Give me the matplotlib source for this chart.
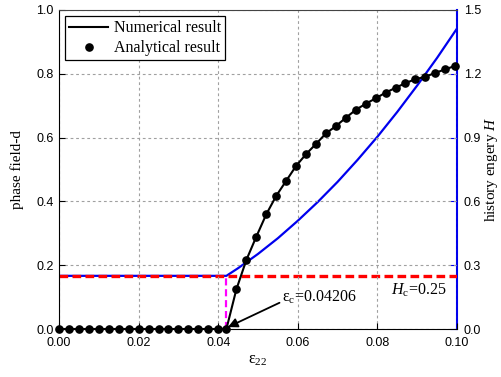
import matplotlib
matplotlib.use("Agg")
import matplotlib.pyplot as plt

# Data
eps_zero = [0.0, 0.0025, 0.005, 0.0075, 0.01, 0.0125, 0.015, 0.0175, 0.02,
            0.0225, 0.025, 0.0275, 0.03, 0.0325, 0.035, 0.0375, 0.04]
d_zero = [0.0] * len(eps_zero)
eps_dmg = [0.04206, 0.04456, 0.04706, 0.04956, 0.05206, 0.05456, 0.05706, 0.05956,
           0.06206, 0.06456, 0.06706, 0.06956, 0.07206, 0.07456, 0.07706, 0.07956,
           0.08206, 0.08456, 0.08706, 0.08956, 0.09206, 0.09456, 0.09706, 0.09956]
d_dmg = [0.0, 0.124, 0.216, 0.289, 0.359, 0.417, 0.464, 0.511,
         0.548, 0.580, 0.613, 0.636, 0.662, 0.687, 0.706, 0.723,
         0.741, 0.756, 0.771, 0.783, 0.791, 0.803, 0.814, 0.825]
eps_all = eps_zero + eps_dmg
d_all = d_zero + d_dmg

eps_H = [0.0, 0.04206, 0.045, 0.05, 0.055, 0.06, 0.065, 0.07, 0.075, 0.08,
         0.085, 0.09, 0.095, 0.1]
H_vals = [0.25, 0.25, 0.286, 0.353, 0.427, 0.509, 0.597, 0.692, 0.795, 0.904,
          1.021, 1.145, 1.275, 1.413]
eps_c = 0.04206
H_c = 0.25

xticks = [0.00, 0.02, 0.04, 0.06, 0.08, 0.10]
yticks_left = [0.0, 0.2, 0.4, 0.6, 0.8, 1.0]
yticks_right = [0.0, 0.3, 0.6, 0.9, 1.2, 1.5]

serif = ['Liberation Serif', 'DejaVu Serif']
sans = ['Liberation Sans', 'DejaVu Sans']
plt.rcParams['font.family'] = sans
plt.rcParams['mathtext.fontset'] = 'custom'
plt.rcParams['mathtext.rm'] = 'Liberation Serif'
plt.rcParams['mathtext.it'] = 'Liberation Serif:italic'

fig = plt.figure(figsize=(5.02, 3.77), dpi=100)
ax = fig.add_axes([59/502, 48/377, (457-59)/502, (329-10)/377])
ax2 = ax.twinx()

ax.set_xlim(0, 0.1)
ax.set_ylim(0, 1.0)
ax2.set_ylim(0, 1.5)

ax.grid(True, color='#a0a0a0', linestyle=(0, (2.5, 2.5)), linewidth=0.8)
ax.set_axisbelow(True)

# Blue H curve
ax2.plot(eps_H, H_vals, color='#0000ee', lw=1.6, zorder=3)
# Red dashed Hc line
ax2.plot([0, 0.1], [H_c, H_c], color='#ff0000', lw=2.4, linestyle=(0, (2.6, 1.3)), zorder=4)
# Magenta vertical
ax2.plot([eps_c, eps_c], [0, H_c], color='#ff00ff', lw=1.6, linestyle=(0, (3.2, 1.7)), zorder=4)

ax.set_zorder(ax2.get_zorder() + 1)
ax.patch.set_visible(False)
ax.plot(eps_all, d_all, color='black', lw=1.5, zorder=5, label='Numerical result', clip_on=False)
ax.plot(eps_all, d_all, 'o', color='black', ms=5.2, zorder=6, label='Analytical result',
        clip_on=False, linestyle='none')

leg = ax.legend(loc='upper left', fancybox=False, edgecolor='black', framealpha=1,
                prop={'family': serif, 'size': 11.5}, handlelength=2.4,
                borderaxespad=0.4, borderpad=0.25, labelspacing=0.25, handletextpad=0.4)
leg.get_frame().set_linewidth(0.9)

ax.annotate(r'$\mathrm{\varepsilon_c}$=0.04206', xy=(eps_c + 0.0004, 0.006), xytext=(0.0561, 0.10),
            fontsize=11.5, family=serif, va='center', ha='left',
            arrowprops=dict(arrowstyle='-|>', color='black', lw=1.3, mutation_scale=14,
                            shrinkA=0, shrinkB=0, relpos=(0, 0.25)))
ax.text(0.0834, 0.122, r'$H_{\mathrm{c}}$=0.25', fontsize=11.5, family=serif, va='center')

ax.set_xticks(xticks)
ax.set_xticklabels(['%.2f' % v for v in xticks])
ax.set_yticks(yticks_left)
ax.set_yticklabels(['%.1f' % v for v in yticks_left])
ax2.set_yticks(yticks_right)
ax2.set_yticklabels(['%.1f' % v for v in yticks_right])

ax.tick_params(axis='x', direction='in', labelsize=9, length=4, pad=6, top=False)
ax.tick_params(axis='y', direction='in', labelsize=9, length=4, pad=4)
ax2.tick_params(direction='in', labelsize=9, length=5, pad=5, color='#0000ee')
for lab in ax.get_xticklabels() + ax.get_yticklabels() + ax2.get_yticklabels():
    lab.set_family(sans)

for s in ['left', 'bottom']:
    ax.spines[s].set_color('black')
ax.spines['top'].set_color('#444444')
ax2.spines['right'].set_color('#0000ee')
ax2.spines['right'].set_linewidth(1.5)
ax.spines['right'].set_visible(False)
for s in ['left', 'bottom', 'top']:
    ax2.spines[s].set_visible(False)

ax.set_xlabel(r'$\mathrm{\varepsilon_{22}}$', fontsize=11.5, labelpad=3)
ax.set_ylabel('phase field-d', family=serif, fontsize=11, labelpad=9)
ax2.set_ylabel(r'history engery $H$', family=serif, fontsize=11, labelpad=1.5)

fig.savefig('out.png', dpi=100)
